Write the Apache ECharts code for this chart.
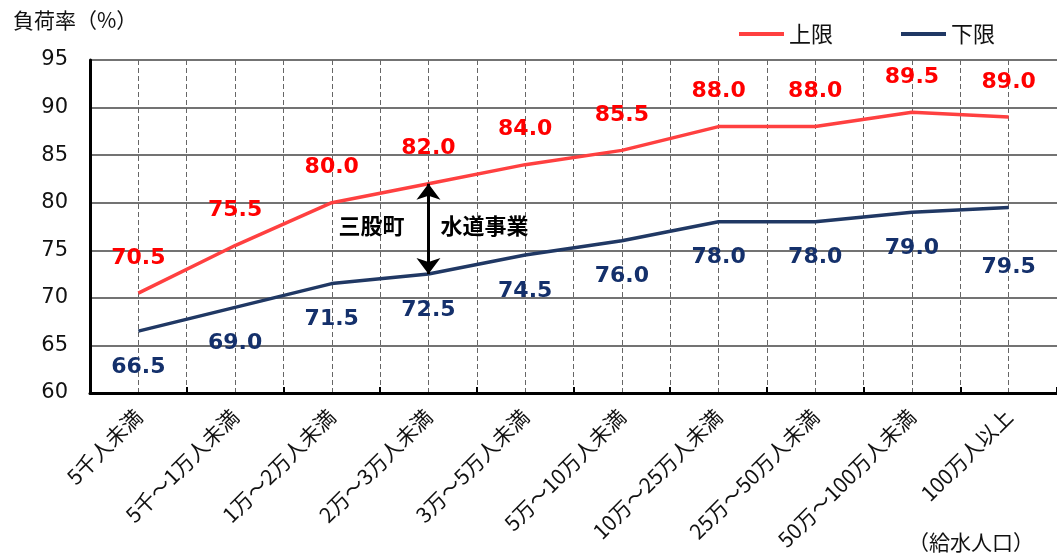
<!DOCTYPE html>
<html lang="ja">
<head>
    <meta charset="UTF-8">
    <title>負荷率</title>
    <script type="text/javascript" src="https://cdn.jsdelivr.net/npm/echarts@6/dist/echarts.min.js"></script>
</head>
<body style="margin:0">
<div id="main" style="width: 1057px;height:558px;"></div>
<script>
    // 給水人口区分
    var categories = ['5千人未満', '5千～1万人未満', '1万～2万人未満', '2万～3万人未満', '3万～5万人未満',
        '5万～10万人未満', '10万～25万人未満', '25万～50万人未満', '50万～100万人未満', '100万人以上'];
    // 上限
    var upper = [70.5, 75.5, 80.0, 82.0, 84.0, 85.5, 88.0, 88.0, 89.5, 89.0];
    // 下限
    var lower = [66.5, 69.0, 71.5, 72.5, 74.5, 76.0, 78.0, 78.0, 79.0, 79.5];
    var yTicks = [60, 65, 70, 75, 80, 85, 90, 95];

    var jp = '"Noto Sans CJK JP", sans-serif';
    var num = '"DejaVu Sans", Verdana, sans-serif';

    // 中心線用のダミー区分（半区分ごとに点線）
    var halfCats = [];
    for (var i = 0; i < categories.length * 2; i++) halfCats.push('');

    var option = {
        animation: false,
        title: [
            {text: '負荷率（%）', left: 8, top: 5, textStyle: {fontFamily: jp, fontSize: 21, fontWeight: 'normal', color: '#111'}},
            {text: '（給水人口）', right: 18, top: 527, textStyle: {fontFamily: jp, fontSize: 21, fontWeight: 'normal', color: '#111'}}
        ],
        legend: {
            right: 57,
            top: 18,
            icon: 'rect',
            itemWidth: 45,
            itemHeight: 4,
            itemGap: 68,
            textStyle: {fontFamily: jp, fontSize: 22, color: '#111'},
            data: ['上限', '下限']
        },
        grid: {left: 90, right: 0, top: 60, bottom: 165},
        xAxis: [
            {
                type: 'category',
                data: categories,
                axisLine: {lineStyle: {color: '#000', width: 3}},
                axisTick: {show: true, inside: true, length: 6, lineStyle: {color: '#000', width: 2}},
                axisLabel: {rotate: 45, margin: 20, fontFamily: jp, fontSize: 21, color: '#111', interval: 0},
                splitLine: {show: false}
            },
            {
                type: 'category',
                data: halfCats,
                position: 'bottom',
                axisLine: {show: false},
                axisTick: {show: false},
                axisLabel: {show: false},
                splitLine: {show: true, interval: 0, lineStyle: {color: '#666', type: [5, 3], width: 1}}
            }
        ],
        yAxis: {
            type: 'value',
            min: yTicks[0],
            max: yTicks[yTicks.length - 1],
            interval: 5,
            axisLine: {show: true, lineStyle: {color: '#000', width: 3}},
            axisTick: {show: false},
            axisLabel: {fontFamily: num, fontSize: 21, color: '#111', margin: 22},
            splitLine: {lineStyle: {color: '#444', width: 1.5}}
        },
        series: [
            {
                name: '上限',
                type: 'line',
                data: upper,
                symbol: 'circle',
                symbolSize: 0,
                showSymbol: true,
                color: '#FF4040',
                lineStyle: {width: 3.5, color: '#FF4040'},
                label: {
                    show: true, position: 'top', distance: 24,
                    fontFamily: num, fontWeight: 'bold', fontSize: 22, color: '#FF0000',
                    formatter: function (p) { return p.value.toFixed(1); }
                },
                markLine: {
                    silent: true,
                    symbol: ['arrow', 'arrow'],
                    symbolSize: [18, 16],
                    label: {show: false},
                    lineStyle: {color: '#000', width: 3, type: 'solid'},
                    data: [[{coord: [3, 82.0]}, {coord: [3, 72.5]}]]
                }
            },
            {
                name: '下限',
                type: 'line',
                data: lower.map(function (v, i) {
                    return i === 9 ? {value: v, label: {distance: 49}} : v;
                }),
                symbol: 'circle',
                symbolSize: 0,
                showSymbol: true,
                color: '#203864',
                lineStyle: {width: 3.5, color: '#203864'},
                label: {
                    show: true, position: 'bottom', distance: 25,
                    fontFamily: num, fontWeight: 'bold', fontSize: 22, color: '#14306B',
                    formatter: function (p) { return p.value.toFixed(1); }
                },
                markPoint: {
                    silent: true,
                    symbol: 'circle',
                    symbolSize: 0,
                    label: {show: true, fontFamily: jp, fontWeight: 'bold', fontSize: 22, color: '#000'},
                    data: [
                        {coord: [3, 77.6], value: '三股町', label: {offset: [-57, 0], formatter: '三股町'}},
                        {coord: [3, 77.6], value: '水道事業', label: {offset: [56, 0], formatter: '水道事業'}}
                    ]
                }
            }
        ]
    };

    var myChart = echarts.init(document.getElementById('main'));
    myChart.setOption(option);
</script>
</body>
</html>
